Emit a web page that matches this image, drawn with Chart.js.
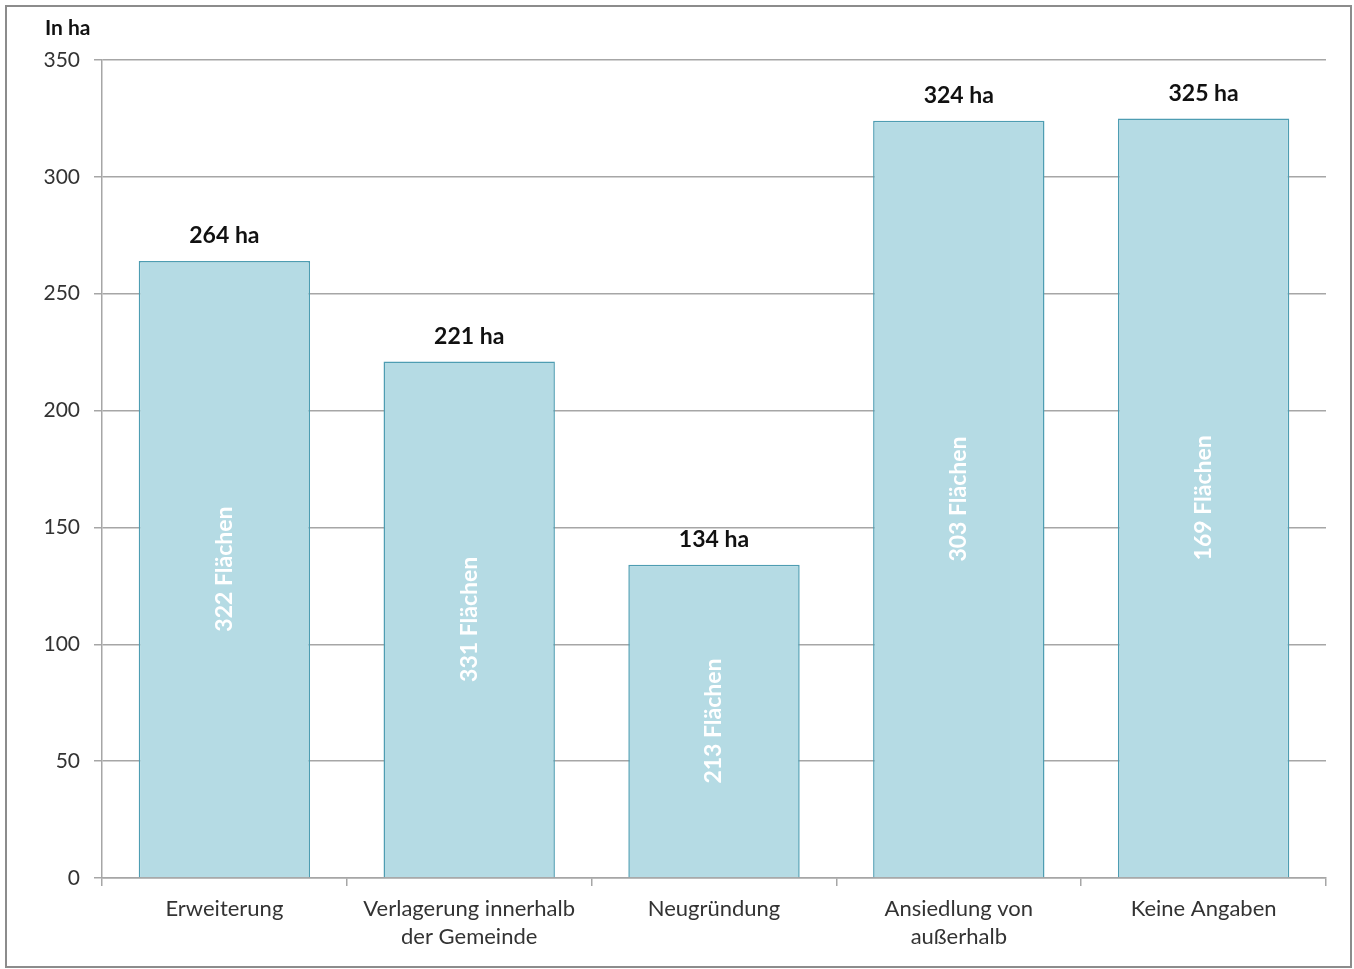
<!DOCTYPE html>
<html>
<head>
<meta charset="utf-8">
<script src="https://cdn.jsdelivr.net/npm/chart.js@4.4.1/dist/chart.umd.min.js"></script>
<style>
  html, body { margin: 0; padding: 0; background: #fff; }
  #wrap { position: absolute; left: 0; top: 0; width: 1354px; height: 969px; }
  #frame { position: absolute; left: 5px; top: 5px; width: 1343px; height: 959px; border: 2px solid #8c8c8c; pointer-events: none; }
</style>
</head>
<body>
<div id="wrap">
  <canvas id="myChart" width="1354" height="969"></canvas>
  <div id="frame"></div>
</div>
<script>
const categories = [
    ["Erweiterung"],
    ["Verlagerung innerhalb", "der Gemeinde"],
    ["Neugründung"],
    ["Ansiedlung von", "außerhalb"],
    ["Keine Angaben"]
];
const hectares = [264, 221, 134, 324, 325];
const plotCounts = [322, 331, 213, 303, 169];
const yTicks = [0, 50, 100, 150, 200, 250, 300, 350];

const FONT = 'Lato, "Open Sans", sans-serif';

// labels above and inside the bars
const barLabels = {
    id: 'barLabels',
    afterDatasetsDraw(chart) {
        const ctx = chart.ctx;
        const meta = chart.getDatasetMeta(0);
        ctx.save();
        meta.data.forEach(function(bar, i) {
            ctx.font = 'bold 23px ' + FONT;
            ctx.fillStyle = '#111';
            ctx.textAlign = 'center';
            ctx.textBaseline = 'middle';
            ctx.fillText(hectares[i] + ' ha', bar.x, bar.y - 25);

            const mid = (bar.y + bar.base) / 2;
            ctx.save();
            ctx.translate(bar.x, mid);
            ctx.rotate(-Math.PI / 2);
            ctx.fillStyle = '#ffffff';
            ctx.font = 'bold 23px ' + FONT;
            ctx.fillText(plotCounts[i] + ' Flächen', 0, 0);
            ctx.restore();
        });
        // axis unit
        ctx.font = 'bold 21px ' + FONT;
        ctx.fillStyle = '#111';
        ctx.textAlign = 'left';
        ctx.textBaseline = 'middle';
        ctx.fillText('In ha', 45, 28);
        ctx.restore();
    }
};

const data = {
    labels: categories,
    datasets: [{
        data: hectares,
        backgroundColor: '#b5dbe4',
        borderColor: '#4e9db2',
        borderWidth: 1.5,
        categoryPercentage: 0.7,
        barPercentage: 1
    }]
};

const config = {
    type: 'bar',
    data,
    options: {
        responsive: false,
        animation: false,
        layout: { padding: { top: 60, right: 28, left: 0, bottom: 0 } },
        plugins: {
            legend: { display: false },
            tooltip: { enabled: false }
        },
        scales: {
            x: {
                offset: true,
                afterFit: function(axis) { axis.height = 969 - 878; },
                grid: {
                    offset: true,
                    drawOnChartArea: false,
                    drawTicks: true,
                    tickLength: 8,
                    color: '#a6a6a6',
                    lineWidth: 1.5
                },
                border: { color: '#a6a6a6', width: 1.5 },
                ticks: {
                    color: '#333',
                    padding: 9,
                    font: { family: FONT, size: 22, lineHeight: 1.28 },
                    maxRotation: 0,
                    autoSkip: false
                }
            },
            y: {
                min: 0,
                max: 350,
                afterFit: function(axis) { axis.width = 102; },
                afterBuildTicks: function(axis) {
                    axis.ticks = yTicks.map(v => ({ value: v }));
                },
                grid: {
                    color: '#a6a6a6',
                    lineWidth: 1.5,
                    drawTicks: true,
                    tickLength: 8
                },
                border: { color: '#a6a6a6', width: 1.5 },
                ticks: {
                    color: '#333',
                    padding: 14,
                    font: { family: FONT, size: 21 }
                }
            }
        }
    },
    plugins: [barLabels]
};

const myChart = new Chart(
    document.getElementById('myChart'),
    config
);
</script>
</body>
</html>
